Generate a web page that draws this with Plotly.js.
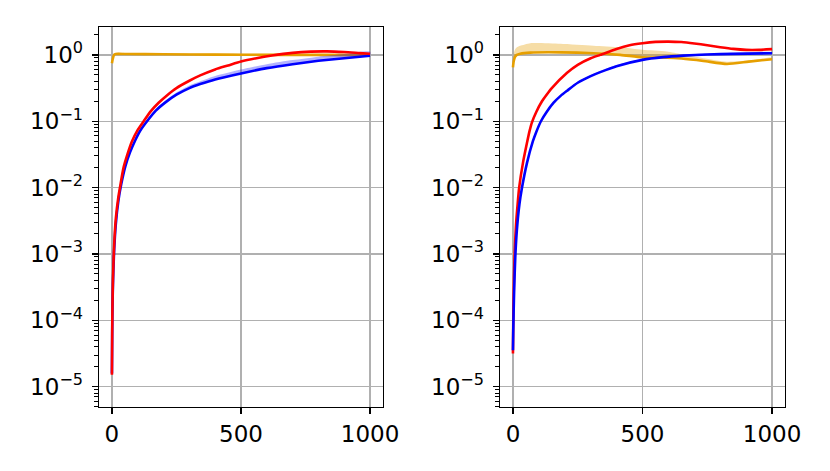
<!DOCTYPE html>
<html>
<head>
<meta charset="utf-8">
<script src="https://cdn.plot.ly/plotly-3.0.1.min.js"></script>
<style>
  html, body { margin: 0; padding: 0; background: #fff; }
  #chart { width: 830px; height: 471px; }
</style>
</head>
<body>
<div id="chart"></div>
<script>
// left panel
var xOrangeL = [0, 3, 8, 15, 50, 200, 400, 600, 800, 1000];
var yOrangeL = [0.75, 0.86, 1.0, 1.03, 1.03, 1.02, 1.01, 1.0, 1.0, 0.99];
var upOrangeL = [0.76, 0.9, 1.04, 1.07, 1.07, 1.06, 1.05, 1.04, 1.03, 1.02];

var xBlueL = [0, 1, 2, 4, 8, 15, 25, 36, 52, 70, 90, 110, 136, 170, 206, 250, 300, 342, 400, 500, 600, 700, 800, 900, 1000];
var yBlueL = [1.58e-5, 5.6e-5, 1.41e-4, 3.5e-4, 1e-3, 2.8e-3, 6.3e-3, 0.0112, 0.0209, 0.0339, 0.0513, 0.0724, 0.1,
              0.1445, 0.1905, 0.251, 0.316, 0.363, 0.427, 0.525, 0.631, 0.724, 0.813, 0.891, 0.97];
var upBlueL = [1.63e-5, 5.8e-5, 1.45e-4, 3.6e-4, 1.03e-3, 2.9e-3, 6.5e-3, 0.0115, 0.0216, 0.035, 0.053, 0.075, 0.104,
               0.152, 0.202, 0.27, 0.345, 0.4, 0.48, 0.6, 0.725, 0.835, 0.94, 1.03, 1.12];

var xRedL = [0, 1, 2, 4, 8, 15, 25, 32, 45, 60, 77, 100, 123, 150, 181, 213, 250, 300, 342, 400, 450, 500, 560, 620,
             700, 770, 833, 900, 960, 1000];
var yRedL = [1.51e-5, 6.3e-5, 1.58e-4, 4.2e-4, 1.2e-3, 3.4e-3, 7.2e-3, 0.0105, 0.02, 0.0316, 0.049, 0.074, 0.1,
             0.141, 0.19, 0.245, 0.316, 0.407, 0.49, 0.603, 0.692, 0.794, 0.891, 0.977, 1.072, 1.117, 1.127,
             1.102, 1.064, 1.04];

// right panel
var xOrangeR = [0, 3, 8, 15, 28, 67, 183, 311, 414, 500, 594, 650, 735, 826, 910, 1000];
var yOrangeR = [0.65, 0.8, 0.93, 1.0, 1.04, 1.08, 1.09, 1.06, 1.0, 0.92, 0.91, 0.88, 0.81, 0.73, 0.79, 0.86];
var upOrangeR = [0.7, 1.05, 1.2, 1.3, 1.37, 1.5, 1.47, 1.37, 1.3, 1.19, 1.12, 1.02, 0.89, 0.79, 0.82, 0.91];

var xBlueR = [0, 1, 2.5, 5, 9, 15, 25, 35, 54, 77, 90, 108, 130, 157, 185, 209, 250, 300, 337, 400, 500, 580, 658,
              750, 850, 1000];
var yBlueR = [3.55e-5, 6.3e-5, 1.26e-4, 3.16e-4, 8.9e-4, 2.24e-3, 5.6e-3, 0.01, 0.0234, 0.05, 0.069, 0.1, 0.138,
              0.19, 0.243, 0.288, 0.38, 0.479, 0.55, 0.676, 0.841, 0.923, 0.973, 1.012, 1.035, 1.059];
var upBlueR = [3.65e-5, 6.5e-5, 1.3e-4, 3.25e-4, 9.2e-4, 2.3e-3, 5.8e-3, 0.0103, 0.0241, 0.0515, 0.071, 0.103, 0.143,
               0.196, 0.251, 0.298, 0.394, 0.497, 0.572, 0.703, 0.875, 0.96, 1.012, 1.052, 1.076, 1.1];

var xRedR = [0, 1, 2, 4, 7, 12, 18, 24, 39, 54, 64, 73, 90, 112, 130, 150, 209, 250, 300, 337, 400, 450, 500, 550,
             600, 650, 700, 750, 800, 850, 900, 950, 1000];
var yRedR = [3.16e-5, 7.9e-5, 1.58e-4, 4.5e-4, 1.12e-3, 2.8e-3, 5.6e-3, 0.01, 0.024, 0.0468, 0.0708, 0.0955, 0.138,
             0.2, 0.251, 0.316, 0.537, 0.708, 0.891, 1.0, 1.23, 1.396, 1.496, 1.567, 1.585, 1.56, 1.486, 1.396,
             1.303, 1.23, 1.189, 1.189, 1.219];

var yTickVals = [1e-5, 1e-4, 1e-3, 1e-2, 1e-1, 1];
var yTickText = ['10<sup>\u22125</sup>', '10<sup>\u22124</sup>', '10<sup>\u22123</sup>',
                 '10<sup>\u22122</sup>', '10<sup>\u22121</sup>', '10<sup>0</sup>'];

var orange = '#e69f00';

function band(x, lo, hi, color, xa, ya) {
  return {
    x: x.concat(x.slice().reverse()),
    y: hi.concat(lo.slice().reverse()),
    xaxis: xa, yaxis: ya,
    type: 'scatter', mode: 'lines',
    fill: 'toself', fillcolor: color,
    line: {width: 0, shape: 'spline', smoothing: 0.6},
    hoverinfo: 'skip', showlegend: false
  };
}

function line(x, y, color, xa, ya) {
  return {
    x: x, y: y, xaxis: xa, yaxis: ya,
    type: 'scatter', mode: 'lines',
    line: {color: color, width: 2.6, shape: 'spline', smoothing: 0.6},
    showlegend: false
  };
}

var data = [
  band(xOrangeL, yOrangeL, upOrangeL, 'rgba(230,159,0,0.35)', 'x', 'y'),
  line(xOrangeL, yOrangeL, orange, 'x', 'y'),
  band(xBlueL, yBlueL, upBlueL, 'rgba(0,0,255,0.3)', 'x', 'y'),
  line(xBlueL, yBlueL, 'blue', 'x', 'y'),
  line(xRedL, yRedL, 'red', 'x', 'y'),

  band(xOrangeR, yOrangeR, upOrangeR, 'rgba(230,159,0,0.35)', 'x2', 'y2'),
  line(xOrangeR, yOrangeR, orange, 'x2', 'y2'),
  band(xBlueR, yBlueR, upBlueR, 'rgba(0,0,255,0.3)', 'x2', 'y2'),
  line(xRedR, yRedR, 'red', 'x2', 'y2'),
  line(xBlueR, yBlueR, 'blue', 'x2', 'y2')
];

var tickFont = {family: 'DejaVu Sans', size: 23, color: '#000'};

function xAxis(domain, anchor) {
  return {
    domain: domain, anchor: anchor,
    range: [-50, 1050],
    tickmode: 'array', tickvals: [0, 500, 1000], ticktext: ['0', '500', '1000'],
    showgrid: true, gridcolor: '#b0b0b0', gridwidth: 1.3,
    zeroline: false,
    showline: true, linecolor: '#000', linewidth: 1.3, mirror: true,
    ticks: 'outside', ticklen: 6, tickwidth: 1.3, tickcolor: '#000',
    tickfont: tickFont
  };
}

function yAxis(domain, anchor) {
  return {
    domain: domain, anchor: anchor,
    type: 'log',
    range: [-5.306, 0.42],
    tickmode: 'array', tickvals: yTickVals, ticktext: yTickText,
    showgrid: true, gridcolor: '#b0b0b0', gridwidth: 1.3,
    zeroline: false,
    showline: true, linecolor: '#000', linewidth: 1.3, mirror: true,
    ticks: 'outside', ticklen: 6, tickwidth: 1.3, tickcolor: '#000',
    ticklabelstandoff: 4,
    minor: {dtick: 'D1', ticks: 'outside', ticklen: 3.5, tickwidth: 1, tickcolor: '#000', showgrid: false},
    tickfont: tickFont
  };
}

var layout = {
  width: 830, height: 471,
  margin: {l: 0, r: 0, t: 0, b: 0},
  paper_bgcolor: '#fff', plot_bgcolor: '#fff',
  showlegend: false,
  xaxis: xAxis([0.1193, 0.4614], 'y'),
  yaxis: yAxis([0.1359, 0.9427], 'x'),
  xaxis2: xAxis([0.6024, 0.9458], 'y2'),
  yaxis2: yAxis([0.1359, 0.9427], 'x2')
};

Plotly.newPlot('chart', data, layout, {staticPlot: true});
</script>
</body>
</html>
